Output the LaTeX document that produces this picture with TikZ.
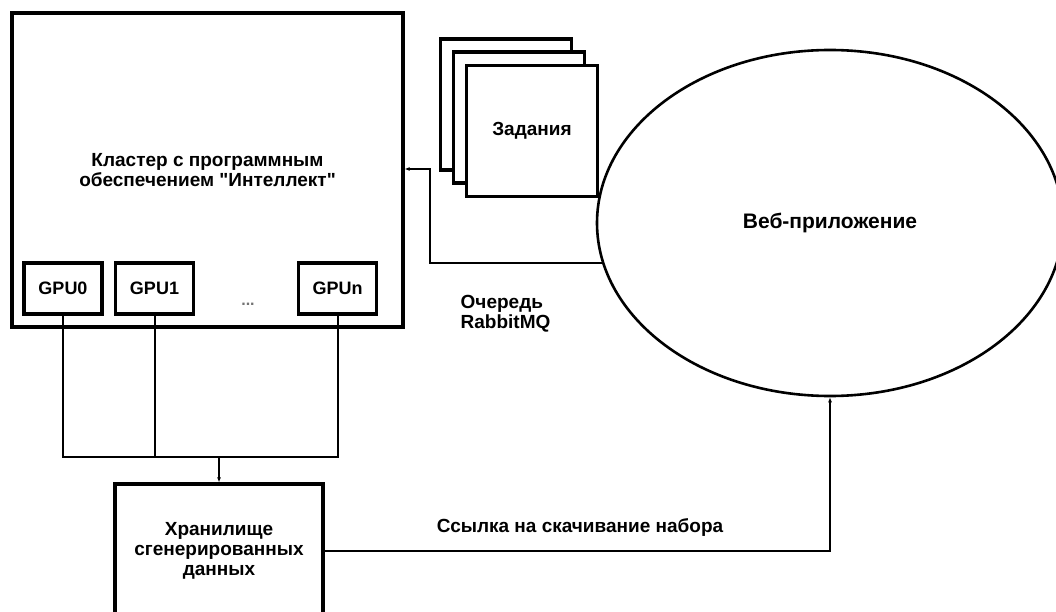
\documentclass[tikz,border=0pt]{standalone}
\usepackage{fontspec}
\setmainfont{Liberation Sans}
\usetikzlibrary{positioning,arrows.meta,shapes.geometric}

\begin{document}
\begin{tikzpicture}[x=1pt, y=-1pt,
  every node/.style={inner sep=1.5pt, font=\fontsize{19}{20}\selectfont\bfseries},
  box/.style={draw, line width=3.2pt, fill=white, align=center},
  gpubox/.style={box, minimum width=78pt, minimum height=51pt, font=\fontsize{18}{20}\selectfont\bfseries},
  taskbox/.style={box, minimum width=131pt, minimum height=131pt},
  conn/.style={line width=2pt},
  arr/.style={conn, -{Latex[length=5pt,width=4pt]}}]
  \clip (0,0) rectangle (1056,612);
  \node[box, minimum width=391pt, minimum height=314pt] (cluster) at (207.5,170) {Кластер с программным\\обеспечением \textquotedbl Интеллект\textquotedbl};
  \node[gpubox] (gpu0) at (63,288.5) {GPU0};
  \node[gpubox] (gpu1) at (154.5,288.5) {GPU1};
  \node[gpubox] (gpun) at (337.5,288.5) {GPUn};
  \node[text=black!55, font=\fontsize{16}{16}\selectfont\bfseries] (dots) at (248,304) {...};
  \node[box, minimum width=208pt, minimum height=134pt] (store) at (219,551) {Хранилище\\сгенерированных\\данных};
  \node[draw, ellipse, line width=2.6pt, minimum width=466pt, minimum height=346pt, font=\fontsize{21}{24}\selectfont\bfseries] (web) at (830,223) {Веб-приложение};
  \node[taskbox] (task1) at (506,104.5) {};
  \node[taskbox] (task2) at (519,117.5) {};
  \node[taskbox] (task3) at (532,131) {Задания};
  \node[anchor=west, align=left] (queue) at (459,314) {Очередь\\RabbitMQ};
  \node (link) at (580,527) {Ссылка на скачивание набора};
  \coordinate (bus) at (219,457);
  \coordinate (qbend) at (430,169);
  \draw[conn] (gpu0.south) |- (bus) -| (gpun.south);
  \draw[conn] (gpu1.south) -- (gpu1.south |- bus);
  \draw[arr] (bus) -- (store.north);
  \draw[arr] (web.190) -| (qbend) -- (qbend -| cluster.east);
  \draw[arr] (store.east) -| (web.south);
\end{tikzpicture}
\end{document}
